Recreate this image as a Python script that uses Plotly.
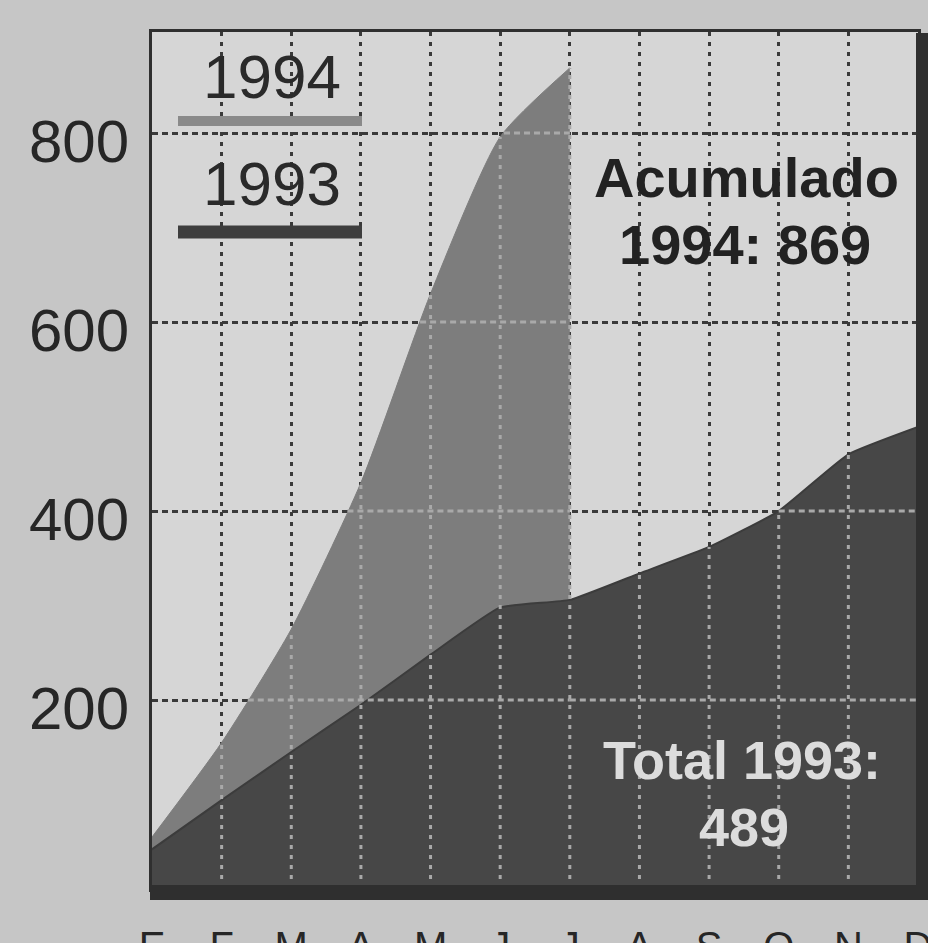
import numpy as np
import plotly.graph_objects as go

# ---------------- data ----------------
months = ["E", "F", "M", "A", "M", "J", "J", "A", "S", "O", "N", "D"]
acum_1994 = [55, 155, 275, 430, 630, 796, 869]          # Jan..Jul 1994 (cumulative)
acum_1993 = [42, 94, 145, 195, 248, 298, 306, 334, 362, 400, 460, 489]  # Jan..Dec 1993
y_ticks = [200, 400, 600, 800]
y_labels = ["200", "400", "600", "800"]
label_1994 = "1994"
label_1993 = "1993"
note_1994 = ["Acumulado", "1994: 869"]
note_1993 = ["Total 1993:", "489"]

# ---------------- geometry / style ----------------
W, H = 928, 943
ML, MR, MT, MB = 152, 10, 32, 54
PW, PH = W - ML - MR, H - MT - MB
YMAX = 907

def px(x):
    return (x - ML) / PW

def py(y):
    return (H - MB - y) / PH

FONT = "Liberation Sans, Arial, Helvetica, sans-serif"
PAPER = "#c6c6c6"
PLOTBG = "#d6d6d6"
C94 = "#7d7d7d"
C93 = "#474747"
FRAME = "#2f2f2f"
GRID_DARK = "#3a3a3a"
GRID_LIGHT = "#a9a9a9"

idx94 = list(range(len(acum_1994)))
idx93 = list(range(len(acum_1993)))

fig = go.Figure()
fig.add_trace(go.Scatter(
    x=idx94, y=acum_1994, mode="lines", fill="tozeroy",
    fillcolor=C94, line=dict(color=C94, width=1, shape="spline", smoothing=0.6),
    name=label_1994, showlegend=False, hoverinfo="x+y"))
fig.add_trace(go.Scatter(
    x=idx93, y=acum_1993, mode="lines", fill="tozeroy",
    fillcolor=C93, line=dict(color="#3c3c3c", width=2, shape="spline", smoothing=0.4),
    name=label_1993, showlegend=False, hoverinfo="x+y"))

shapes = []
# light dotted grid over the filled areas (derived from the data)
n94 = len(acum_1994)
last94 = n94 - 1
for i in range(1, len(months) - 1):
    top = acum_1993[i]
    if i < n94:
        top = max(top, acum_1994[i])
    shapes.append(dict(type="line", xref="x", yref="y", x0=i, x1=i, y0=0, y1=top,
                       line=dict(color=GRID_LIGHT, width=3, dash="4px,6px"), layer="above"))
for lv in y_ticks:
    segs = []
    if lv <= acum_1994[-1]:
        x0 = 0 if lv < acum_1994[0] else float(np.interp(lv, acum_1994, idx94))
        segs.append((x0, last94))
    if lv <= acum_1993[-1]:
        x0 = max(last94, float(np.interp(lv, acum_1993, idx93)))
        segs.append((x0, len(months) - 1))
    for a, b in segs:
        shapes.append(dict(type="line", xref="x", yref="y", x0=a, x1=b, y0=lv, y1=lv,
                           line=dict(color=GRID_LIGHT, width=3, dash="6px,4px"), layer="above"))

# thick frame on right and bottom
shapes.append(dict(type="rect", xref="paper", yref="paper",
                   x0=px(916), x1=px(930), y0=py(900), y1=py(33),
                   fillcolor=FRAME, line=dict(width=0), layer="above"))
shapes.append(dict(type="rect", xref="paper", yref="paper",
                   x0=px(150), x1=px(930), y0=py(900), y1=py(885),
                   fillcolor=FRAME, line=dict(width=0), layer="above"))

# legend swatches
shapes.append(dict(type="line", xref="paper", yref="paper",
                   x0=px(178), x1=px(362), y0=py(121), y1=py(121),
                   line=dict(color="#8a8a8a", width=10), layer="above"))
shapes.append(dict(type="line", xref="paper", yref="paper",
                   x0=px(178), x1=px(362), y0=py(232), y1=py(232),
                   line=dict(color="#3e3e3e", width=13), layer="above"))

def note(text, x, y, size, color):
    return dict(text=text, x=px(x), y=py(y), xref="paper", yref="paper",
                xanchor="center", yanchor="middle", showarrow=False,
                font=dict(family=FONT, size=size, color=color))

annotations = [
    note(label_1994, 272, 76, 62, "#2a2a2a"),
    note(label_1993, 272, 183, 62, "#2a2a2a"),
    note("<b>%s</b>" % note_1994[0], 746, 178, 56, "#222222"),
    note("<b>%s</b>" % note_1994[1], 745, 244, 56, "#222222"),
    note("<b>%s</b>" % note_1993[0], 742, 760, 54, "#dcdcdc"),
    note("<b>%s</b>" % note_1993[1], 744, 827, 54, "#dcdcdc"),
]

fig.update_layout(
    width=W, height=H,
    margin=dict(l=ML, r=MR, t=MT, b=MB, pad=0, autoexpand=False),
    paper_bgcolor=PAPER, plot_bgcolor=PLOTBG,
    shapes=shapes, annotations=annotations,
    showlegend=False,
    font=dict(family=FONT, color="#262626"),
)
fig.update_xaxes(
    range=[0, len(months) - 1], tickmode="array", tickvals=list(range(len(months))),
    ticktext=months, tickfont=dict(size=40, color="#262626"),
    showgrid=True, gridcolor=GRID_DARK, gridwidth=3, griddash="4px,6px",
    showline=True, mirror=True, linecolor=FRAME, linewidth=3, automargin=False,
    ticks="", ticklabelstandoff=20, ticklabeloverflow="allow",
    zeroline=False, fixedrange=True)
fig.update_yaxes(
    range=[0, YMAX], tickmode="array", tickvals=y_ticks, ticktext=y_labels,
    tickfont=dict(size=60, color="#262626"),
    showgrid=True, gridcolor=GRID_DARK, gridwidth=3, griddash="6px,4px",
    showline=True, mirror=True, linecolor=FRAME, linewidth=3, automargin=False,
    ticks="", ticklabelstandoff=8, ticklabelshift=8, ticklabeloverflow="allow",
    zeroline=False, fixedrange=True)

fig.write_html("out.html", config={"displayModeBar": False},
               post_script="document.body.style.margin='0px';")
